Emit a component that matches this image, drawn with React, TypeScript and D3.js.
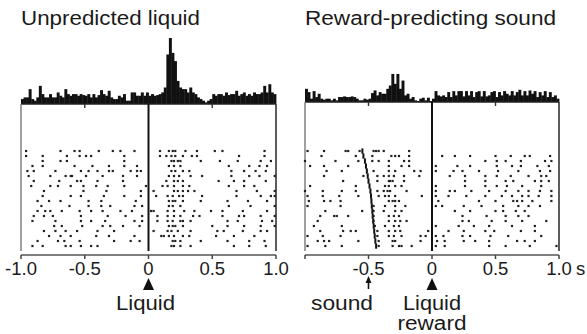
import { useEffect, useRef } from 'react'
import * as d3 from 'd3'

const W = 587
const H = 334
const FONT = '"Liberation Sans", Arial, Helvetica, sans-serif'

// time axis (s)
const tickValues = [-1, -0.5, 0, 0.5, 1]
const liquidTickLabels = ['-1.0', '-0.5', '0', '0.5', '1.0']
const soundTickLabels = ['', '-0.5', '0', '0.5', '1.0']
const BIN = 0.02

// peri-event histograms, 20 ms bins from -1 to +1 s (impulses / bin)
const liquidHist = [
  1.5, 2, 2, 4.5, 1.5, 1, 2, 5.5, 3, 2,
  2, 3, 2, 2, 3.5, 2.5, 2, 4.5, 3, 2.5,
  3, 3, 2.5, 3, 2.7, 2.5, 3, 2, 3, 2,
  2.7, 4.2, 3, 2.5, 4, 2, 1.5, 1.5, 2.5, 2,
  3, 1, 1, 3.5, 3.5, 2.5, 2.5, 3.5, 2.5, 3.5,
  2.5, 3, 2.5, 2.7, 3, 3.5, 5, 15, 20, 15.5,
  13, 7, 5, 4.5, 4.5, 3.5, 5, 3.5, 3, 2,
  1.5, 1, 0.5, 1, 1.5, 3, 2.5, 3, 3, 2.5,
  3.5, 2.7, 3, 3, 4, 2.5, 3, 3.5, 2.5, 3,
  2.5, 3.5, 3, 3, 3.5, 5.5, 3.5, 6, 3.5, 3,
]
const soundHist = [
  4, 3, 1, 3.3, 1.5, 2.5, 1, 0.7, 1, 1,
  0.5, 1, 0.5, 1.5, 1.5, 1.7, 1.5, 1.5, 1.7, 1.5,
  1, 0.5, 0.5, 1, 0.7, 1, 2.7, 3.5, 2, 3,
  2.5, 2.5, 4, 5, 8.5, 5.5, 8.5, 4, 6.5, 2,
  2.5, 1, 1.5, 0.5, 0.3, 1, 1.3, 0.5, 1.3, 0.3,
  1, 3.3, 2, 1.7, 2, 1.5, 3, 1.5, 3.3, 2,
  3.3, 3.3, 1.7, 3.3, 2, 3.3, 1.5, 3, 3.3, 1.7,
  3.3, 1.7, 2, 3, 3.3, 1.5, 3, 2, 3.3, 2.5,
  2, 3.3, 2, 3, 3.7, 2, 3.3, 2, 3.5, 2.5,
  3.3, 1.5, 3, 2, 3.3, 1.5, 3, 1.5, 2, 1,
]

// spike times (s) per trial, first trial on top
const liquidTrials = [
  [-0.96, -0.69, -0.58, -0.54, -0.39, -0.28, -0.22, -0.11, 0.09, 0.16, 0.19, 0.21, 0.29, 0.38, 0.52, 0.58, 0.91],
  [-0.96, -0.83, -0.64, -0.54, -0.49, -0.45, -0.19, 0.09, 0.14, 0.18, 0.21, 0.27, 0.34, 0.38, 0.71, 0.91],
  [-0.83, -0.69, -0.64, -0.19, 0.18, 0.2, 0.23, 0.25, 0.41, 0.56, 0.7, 0.88, 0.96],
  [-0.91, -0.83, -0.58, -0.44, -0.31, -0.19, -0.09, 0.16, 0.2, 0.25, 0.63, 0.79, 0.87, 0.93],
  [-0.95, -0.9, -0.73, -0.53, -0.47, -0.4, -0.31, -0.28, -0.14, -0.09, -0.06, 0.18, 0.21, 0.27, 0.32, 0.65, 0.75, 0.84, 0.92],
  [-0.94, -0.77, -0.65, -0.61, -0.6, -0.49, -0.36, -0.2, -0.09, 0.16, 0.2, 0.24, 0.33, 0.42, 0.65, 0.79, 0.87, 0.99],
  [-0.9, -0.7, -0.56, -0.53, -0.4, -0.2, 0.14, 0.2, 0.23, 0.27, 0.55, 0.67, 0.75, 0.92],
  [-0.92, -0.77, -0.71, -0.61, -0.51, -0.41, -0.32, -0.19, -0.02, 0.11, 0.15, 0.2, 0.27, 0.32, 0.63, 0.75, 0.83],
  [-0.82, -0.51, -0.33, -0.06, 0.04, 0.2, 0.23, 0.27, 0.31, 0.36, 0.69, 0.85, 0.99],
  [-0.83, -0.61, -0.53, -0.35, -0.19, -0.06, 0.06, 0.15, 0.19, 0.24, 0.27, 0.42, 0.69, 0.88, 0.96, 0.99],
  [-0.87, -0.78, -0.69, -0.47, -0.37, -0.1, 0.16, 0.19, 0.21, 0.27, 0.41, 0.62, 0.78, 0.93],
  [-0.84, -0.62, -0.47, -0.37, -0.3, -0.11, -0.05, 0.16, 0.19, 0.25, 0.63, 0.8, 0.99],
  [-0.87, -0.81, -0.77, -0.68, -0.54, -0.45, -0.36, -0.22, -0.13, 0.02, 0.04, 0.15, 0.2, 0.28, 0.36, 0.49, 0.58, 0.74, 0.93],
  [-0.9, -0.82, -0.75, -0.53, -0.32, -0.18, -0.05, 0.07, 0.15, 0.2, 0.25, 0.35, 0.4, 0.58, 0.71, 0.75, 0.88, 0.99],
  [-0.91, -0.73, -0.53, -0.45, -0.34, -0.11, -0.05, 0.07, 0.15, 0.19, 0.25, 0.27, 0.33, 0.62, 0.7, 0.89, 0.97],
  [-0.74, -0.68, -0.52, -0.36, -0.3, -0.2, -0.07, 0.16, 0.19, 0.21, 0.27, 0.5, 0.62, 0.75, 0.88, 0.99],
  [-0.82, -0.73, -0.65, -0.56, -0.4, -0.27, 0.04, 0.15, 0.18, 0.23, 0.33, 0.54, 0.59, 0.74, 0.88, 0.93],
  [-0.78, -0.69, -0.61, -0.41, -0.31, -0.11, 0.1, 0.12, 0.16, 0.2, 0.27, 0.32, 0.53, 0.67, 0.83],
  [-0.87, -0.71, -0.66, -0.54, -0.27, -0.14, -0.07, 0.19, 0.21, 0.25, 0.41, 0.62, 0.79, 0.91],
  [-0.91, -0.83, -0.65, -0.61, -0.53, -0.45, -0.4, 0.18, 0.2, 0.25, 0.33, 0.67, 0.79, 0.92],
]
const soundTrials = [
  [-0.98, -0.85, -0.68, -0.66, -0.57, -0.46, -0.44, -0.42, -0.38, -0.18],
  [-0.87, -0.6, -0.47, -0.32, -0.29, -0.26, -0.18, 0.08, 0.18, 0.3, 0.5, 0.62, 0.73, 0.77, 0.93],
  [-1.0, -0.76, -0.58, -0.47, -0.42, -0.34, -0.22, -0.18, 0.42, 0.51, 0.58, 0.7, 0.89, 0.94],
  [-0.96, -0.85, -0.66, -0.34, -0.24, -0.18, 0.03, 0.2, 0.3, 0.51, 0.63, 0.7, 0.83, 0.92],
  [-0.83, -0.71, -0.46, -0.34, -0.29, -0.14, -0.09, 0.03, 0.17, 0.24, 0.37, 0.52, 0.68, 0.85, 0.93],
  [-0.85, -0.54, -0.43, -0.38, -0.34, -0.3, -0.22, -0.1, 0.14, 0.26, 0.42, 0.51, 0.62, 0.76, 0.86, 0.9],
  [-0.7, -0.43, -0.34, -0.33, -0.31, -0.22, 0.26, 0.42, 0.58, 0.64, 0.81, 0.86, 0.92],
  [-0.96, -0.6, -0.37, -0.34, -0.29, -0.24, 0.03, 0.26, 0.42, 0.51, 0.59, 0.71, 0.86],
  [-1.0, -0.86, -0.71, -0.6, -0.43, -0.38, -0.35, -0.33, -0.2, 0.03, 0.14, 0.18, 0.31, 0.45, 0.58, 0.68, 0.76, 0.85, 0.94],
  [-0.98, -0.86, -0.73, -0.58, -0.42, -0.37, -0.34, -0.29, -0.08, 0.03, 0.13, 0.27, 0.42, 0.55, 0.63, 0.71, 0.76, 0.84, 0.94],
  [-0.97, -0.85, -0.8, -0.72, -0.34, -0.31, -0.29, -0.26, 0.05, 0.37, 0.5, 0.64, 0.67, 0.71, 0.79, 0.94],
  [-0.98, -0.72, -0.46, -0.37, -0.29, -0.21, 0.03, 0.08, 0.25, 0.39, 0.56, 0.68, 0.76, 0.85],
  [-0.84, -0.55, -0.46, -0.38, -0.29, -0.24, 0.18, 0.3, 0.5, 0.56, 0.66, 0.73],
  [-0.88, -0.77, -0.75, -0.66, -0.46, -0.34, -0.3, -0.26, 0.24, 0.43, 0.58, 0.68, 0.76],
  [-0.9, -0.46, -0.34, -0.29, -0.25, -0.2, 0.24, 0.29, 0.47, 0.58, 0.71, 0.9],
  [-0.93, -0.71, -0.45, -0.37, -0.3, -0.26, 0.03, 0.21, 0.33, 0.45, 0.63, 0.81],
  [-0.88, -0.7, -0.64, -0.6, -0.43, -0.34, -0.29, -0.25, -0.03, 0.13, 0.25, 0.42, 0.49, 0.7, 0.81],
  [-0.98, -0.86, -0.72, -0.43, -0.34, -0.3, -0.24, -0.09, -0.05, 0.03, 0.09, 0.24, 0.3, 0.46, 0.6, 0.86],
  [-0.9, -0.85, -0.81, -0.58, -0.42, -0.31, -0.29, -0.09, 0.04, 0.1, 0.25, 0.34, 0.45, 0.67, 0.73, 0.81],
  [-0.98, -0.84, -0.71, -0.42, -0.31, -0.26, -0.24, -0.16, 0.03, 0.1, 0.45, 0.58, 0.77, 0.98],
]
// sound onset per trial (s, relative to liquid reward), trials sorted
const soundOnsets = [
  -0.548, -0.54, -0.528, -0.52, -0.513, -0.506, -0.5, -0.492, -0.485, -0.48,
  -0.477, -0.474, -0.47, -0.467, -0.463, -0.459, -0.455, -0.451, -0.446, -0.44,
]

type PanelCfg = {
  title: string
  titleLen: number
  hist: number[]
  trials: number[][]
  onsets?: number[]
  range: [number, number]
  base: number
  labels: string[]
}

const ROW_TOP = 151
const ROW_BOTTOM = 246
const BOX_BOTTOM = 251
const AXIS_Y = 255

function drawPanel(svg: d3.Selection<SVGSVGElement, unknown, null, undefined>, p: PanelCfg) {
  const x = d3.scaleLinear().domain([-1, 1]).range(p.range)
  const hy = d3.scaleLinear().domain([0, 20]).range([0, 66])
  const row = d3.scalePoint<number>().domain(d3.range(p.trials.length)).range([ROW_TOP, ROW_BOTTOM])
  const g = svg.append('g')

  // title
  g.append('text')
    .attr('x', p.range[0]).attr('y', 25)
    .attr('font-size', 20.5).attr('font-family', FONT).attr('fill', '#1a1a1a')
    .attr('textLength', p.titleLen).attr('lengthAdjust', 'spacingAndGlyphs')
    .text(p.title)

  // histogram
  g.selectAll(null).data(p.hist).join('rect')
    .attr('x', (_, i) => x(-1 + i * BIN))
    .attr('width', (_, i) => x(-1 + (i + 1) * BIN) - x(-1 + i * BIN) + 0.4)
    .attr('y', d => p.base - hy(d))
    .attr('height', d => hy(d))
    .attr('fill', '#111')

  // histogram baseline + ticks
  g.append('line')
    .attr('x1', x(-1)).attr('x2', x(1)).attr('y1', p.base).attr('y2', p.base)
    .attr('stroke', '#222').attr('stroke-width', 1.6)
  g.selectAll(null).data([-0.5, 0.5]).join('line')
    .attr('x1', d => x(d)).attr('x2', d => x(d))
    .attr('y1', p.base).attr('y2', p.base + 4)
    .attr('stroke', '#333').attr('stroke-width', 1.4)

  // raster frame: left edge, event line, right edge
  const edges: [number, string, number][] = [[-1, '#777', 1.4], [0, '#111', 2], [1, '#333', 1.6]]
  g.selectAll(null).data(edges).join('line')
    .attr('x1', d => x(d[0])).attr('x2', d => x(d[0]))
    .attr('y1', p.base).attr('y2', BOX_BOTTOM)
    .attr('stroke', d => d[1]).attr('stroke-width', d => d[2])

  // sound onset markers
  if (p.onsets) {
    g.selectAll(null).data(p.onsets).join('rect')
      .attr('x', d => x(d) - 1)
      .attr('y', (_, i) => (row(i) ?? 0) - 2.6)
      .attr('width', 2).attr('height', 5.3)
      .attr('fill', '#111')
  }

  // spikes
  const dots = p.trials.flatMap((ts, i) => ts.map(t => ({ t, i })))
  g.selectAll(null).data(dots).join('rect')
    .attr('x', d => x(d.t) - 1.1)
    .attr('y', d => (row(d.i) ?? 0) - 1.1)
    .attr('width', 2.2).attr('height', 2.2)
    .attr('fill', '#222')

  // time axis
  g.append('line')
    .attr('x1', x(-1)).attr('x2', x(1)).attr('y1', AXIS_Y).attr('y2', AXIS_Y)
    .attr('stroke', '#555').attr('stroke-width', 1.5)
  g.selectAll(null).data(tickValues).join('line')
    .attr('x1', d => x(d)).attr('x2', d => x(d))
    .attr('y1', AXIS_Y).attr('y2', AXIS_Y + 4)
    .attr('stroke', '#444').attr('stroke-width', 1.5)
  g.selectAll(null).data(tickValues).join('text')
    .attr('x', d => x(d)).attr('y', 275)
    .attr('text-anchor', 'middle')
    .attr('font-size', 18.5).attr('font-family', FONT).attr('fill', '#1a1a1a')
    .text((_, i) => p.labels[i])

  return x
}

function addLabel(svg: d3.Selection<SVGSVGElement, unknown, null, undefined>, txt: string, cx: number, y: number, len: number) {
  svg.append('text')
    .attr('x', cx).attr('y', y).attr('text-anchor', 'middle')
    .attr('font-size', 20).attr('font-family', FONT).attr('fill', '#1a1a1a')
    .attr('textLength', len).attr('lengthAdjust', 'spacingAndGlyphs')
    .text(txt)
}

function triangle(svg: d3.Selection<SVGSVGElement, unknown, null, undefined>, cx: number) {
  svg.append('path')
    .attr('d', `M${cx},278 L${cx - 5.5},290 L${cx + 5.5},290 Z`)
    .attr('fill', '#111')
}

export default function App() {
  const svgRef = useRef<SVGSVGElement>(null)

  useEffect(() => {
    const svg = d3.select(svgRef.current as SVGSVGElement)
    svg.selectAll('*').remove()

    const xL = drawPanel(svg, {
      title: 'Unpredicted liquid', titleLen: 179,
      hist: liquidHist, trials: liquidTrials,
      range: [21, 276], base: 104, labels: liquidTickLabels,
    })
    const xR = drawPanel(svg, {
      title: 'Reward-predicting sound', titleLen: 251,
      hist: soundHist, trials: soundTrials, onsets: soundOnsets,
      range: [305, 559], base: 102, labels: soundTickLabels,
    })

    // unit after last tick
    svg.append('text')
      .attr('x', xR(1) + 17).attr('y', 275)
      .attr('font-size', 18.5).attr('font-family', FONT).attr('fill', '#1a1a1a')
      .text('s')

    // event markers
    triangle(svg, xL(0))
    addLabel(svg, 'Liquid', xL(0) - 3, 310, 59)

    triangle(svg, xR(0))
    addLabel(svg, 'Liquid', xR(0), 310, 58)
    addLabel(svg, 'reward', xR(0), 330, 69)

    const xs = xR(-0.5)
    svg.append('line')
      .attr('x1', xs).attr('x2', xs).attr('y1', 280).attr('y2', 289)
      .attr('stroke', '#111').attr('stroke-width', 1.6)
    svg.append('path')
      .attr('d', `M${xs},276 L${xs - 3},283 L${xs + 3},283 Z`)
      .attr('fill', '#111')
    addLabel(svg, 'sound', 342, 310, 62)
  }, [])

  return (
    <svg ref={svgRef} width={W} height={H}
      style={{ position: 'absolute', left: 0, top: 0, background: '#fff', display: 'block' }} />
  )
}
